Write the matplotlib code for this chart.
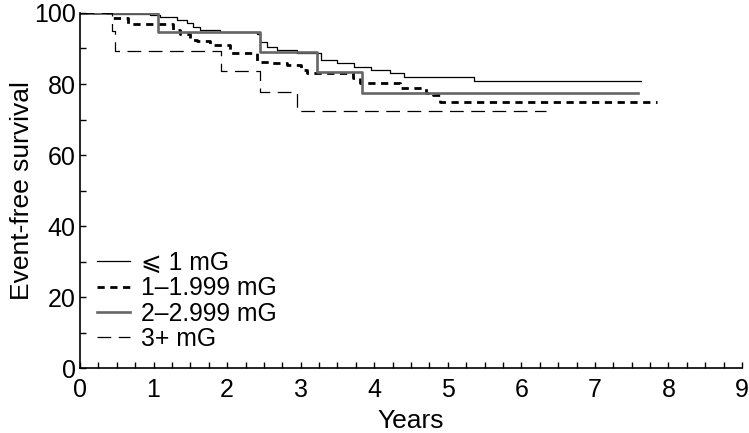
import numpy as np
import matplotlib
matplotlib.use("Agg")
import matplotlib.pyplot as plt
from matplotlib.ticker import MultipleLocator

plt.rcParams['font.family'] = ['Liberation Sans', 'DejaVu Sans']

# ---------- survival curves (years, %) ----------
t_low = [0, 0.45, 0.95, 1.09, 1.32, 1.46, 1.54, 1.63, 1.90, 2.41, 2.45, 2.54,
         2.68, 2.95, 3.27, 3.50, 3.72, 3.95, 4.22, 4.40, 5.35, 7.62]
s_low = [100, 99.6, 99.4, 98.8, 98, 97.3, 96, 95.2, 94.7, 94.2, 91.9, 90.5,
         89.6, 88.7, 86.8, 85.8, 84.9, 83.9, 83.0, 82.1, 80.8, 80.8]

t_mid1 = [0, 0.45, 0.65, 1.27, 1.36, 1.50, 1.59, 1.77, 2.04, 2.41, 2.59, 2.82,
          3.00, 3.09, 3.71, 3.81, 4.35, 4.70, 4.80, 4.90, 7.85]
s_mid1 = [100, 98.5, 96.9, 95.2, 94.2, 92.5, 92.2, 91.1, 88.6, 86.3, 85.8, 85.4,
          84.0, 83.0, 81.6, 80.2, 78.8, 77.6, 76.9, 74.9, 74.9]

t_mid2 = [0, 1.06, 2.45, 3.22, 3.84, 7.59]
s_mid2 = [100, 94.6, 89.1, 83.5, 77.4, 77.4]

t_high = [0, 0.44, 0.48, 1.92, 2.45, 2.95, 6.34]
s_high = [100, 95.0, 89.3, 83.6, 77.8, 72.4, 72.4]

labels = ['\u2a7d 1 mG', '1\u20131.999 mG', '2\u20132.999 mG', '3+ mG']

# ---------- draw ----------
fig = plt.figure(figsize=(7.49, 4.33), dpi=100)
ax = fig.add_axes([0.1068, 0.150, 0.8839, 0.820])

ax.step(t_low, s_low, where='post', color='black', lw=0.9, label=labels[0])
ax.step(t_mid1, s_mid1, where='post', color='black', lw=2.0,
        dashes=(2.6, 2.0), label=labels[1])
ax.step(t_mid2, s_mid2, where='post', color='#666666', lw=1.9, label=labels[2])
ax.step(t_high, s_high, where='post', color='black', lw=0.9,
        dashes=(11, 6), label=labels[3])

ax.set_xlim(0, 9)
ax.set_ylim(0, 100)
ax.xaxis.set_major_locator(MultipleLocator(1))
ax.xaxis.set_minor_locator(MultipleLocator(0.25))
ax.yaxis.set_major_locator(MultipleLocator(20))
ax.yaxis.set_minor_locator(MultipleLocator(10))
ax.tick_params(which='both', direction='in', length=4, width=1, labelsize=18)
ax.tick_params(axis='x', pad=7)
ax.tick_params(axis='y', pad=3)

ax.spines['top'].set_visible(False)
ax.spines['right'].set_visible(False)
ax.spines['left'].set_linewidth(1.2)
ax.spines['bottom'].set_linewidth(1.2)

ax.set_xlabel('Years', fontsize=19, labelpad=5)
ax.set_ylabel('Event-free survival', fontsize=19, labelpad=0)

ax.legend(loc='lower left', bbox_to_anchor=(-0.001, 0.0), frameon=False,
          fontsize=17.8, handlelength=1.35, handletextpad=0.45,
          labelspacing=0.05, borderaxespad=0.3)

fig.savefig('out.png', dpi=100)
